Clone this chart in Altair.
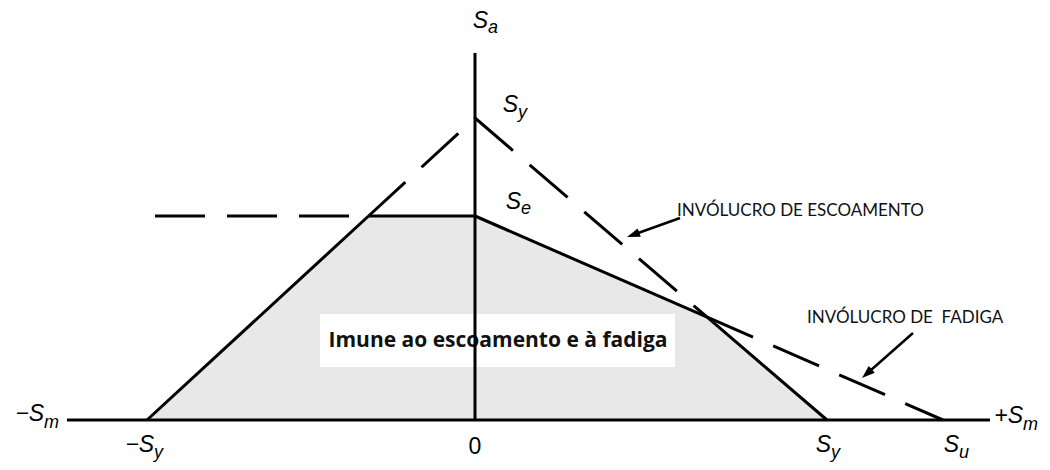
import math
import altair as alt
import pandas as pd

# ---- values (stress units, schematic) ----
SY_NEG = -328      # -Sy on the mean-stress axis
SY_POS = 352       # Sy on the mean-stress axis
SU = 468           # Su on the mean-stress axis
SY_AMP = 302       # Sy on the alternating-stress axis
SE = 204           # Se on the alternating-stress axis
SM_MIN = -408      # left end of the Sm axis
SM_MAX = 515       # right end of the Sm axis
SA_MAX = 367       # top of the Sa axis
SE_DASH_START = -320  # start of the dashed Se line on the left

X_DOMAIN = [-467, 567]
Y_DOMAIN = [-42, 412]

# text box "Imune..."
BOX_X = [-155, 200]
BOX_Y = [53, 106]

# arrows (start -> tip)
ARROW_X0 = [205, 438]
ARROW_Y0 = [202, 87]
ARROW_X1 = [152, 387]
ARROW_Y1 = [183, 42]

# labels: main symbol (right-aligned) and subscript (left-aligned) meet at x
BIG_TXT = ["S", "S", "S", "\u2212S", "\u2212S", "S", "S", "+S"]
SUB_TXT = ["a", "y", "e", "m", "y", "y", "u", "m"]
LBL_X = [13, 43, 46, -431, -321, 356, 484, 548]
BIG_Y = [399, 315, 218, 6, -25, -25, -25, 4]
SUB_Y = [392, 307, 211, -3, -33, -33, -33, -5]

# ---- derived geometry ----
left_x = SY_NEG * (1 - SE / SY_AMP)
knee_x = (SY_AMP - SE) / (SY_AMP / SY_POS - SE / SU)
knee_y = SE * (1 - knee_x / SU)

xs = alt.Scale(domain=X_DOMAIN, nice=False, zero=False)
ys = alt.Scale(domain=Y_DOMAIN, nice=False, zero=False)

solid = pd.DataFrame({
    "x": [SM_MIN, 0, SY_NEG, left_x, 0, knee_x],
    "y": [0, 0, 0, SE, SE, knee_y],
    "x2": [SM_MAX, 0, left_x, 0, knee_x, SY_POS],
    "y2": [0, SA_MAX, SE, SE, knee_y, 0],
})
dashed = pd.DataFrame({
    "x": [left_x, SE_DASH_START, 0, knee_x],
    "y": [SE, SE, SY_AMP, knee_y],
    "x2": [0, left_x, knee_x, SU],
    "y2": [SY_AMP, SE, knee_y, 0],
})
poly = pd.DataFrame({
    "x": [SY_NEG, left_x, 0, knee_x, SY_POS],
    "y": [0, SE, SE, knee_y, 0],
})

def X():
    return alt.X("x:Q", scale=xs, axis=None)

def Y():
    return alt.Y("y:Q", scale=ys, axis=None)

def enc_seg():
    return dict(x=X(), y=Y(), x2="x2:Q", y2="y2:Q")

area = alt.Chart(poly).mark_area(color="#e8e8e8", opacity=1).encode(
    x=X(), y=Y(), y2=alt.datum(0))

box = alt.Chart(pd.DataFrame({"x": [BOX_X[0]], "x2": [BOX_X[1]], "y": [BOX_Y[0]], "y2": [BOX_Y[1]]})).mark_rect(
    color="white").encode(**enc_seg())

box_text = alt.Chart(pd.DataFrame({"t": ["Imune ao escoamento e à fadiga"], "x": [23], "y": [79]})).mark_text(
    font="Open Sans", fontWeight="bold", fontSize=21, color="#111", align="center", baseline="middle").encode(
    x=X(), y=Y(), text="t:N")

solid_l = alt.Chart(solid).mark_rule(color="black", strokeWidth=3, strokeCap="butt").encode(**enc_seg())
dashed_l = alt.Chart(dashed).mark_rule(color="black", strokeWidth=3, strokeCap="butt",
                                       strokeDash=[50, 22]).encode(**enc_seg())

# arrows
sx, sy, ang = [], [], []
for x0, y0, x1, y1 in zip(ARROW_X0, ARROW_Y0, ARROW_X1, ARROW_Y1):
    dx, dy = x1 - x0, y1 - y0
    L = math.hypot(dx, dy)
    sx.append(x1 - dx / L * 6)
    sy.append(y1 - dy / L * 6)
    ang.append(math.degrees(math.atan2(-dy, dx)) % 360)
arrows = pd.DataFrame({"x": ARROW_X0, "y": ARROW_Y0, "x2": sx, "y2": sy})
arrow_l = alt.Chart(arrows).mark_rule(color="black", strokeWidth=2.5).encode(**enc_seg())
heads = pd.DataFrame({"x": ARROW_X1, "y": ARROW_Y1, "a": ang})
arrow_h = alt.Chart(heads).mark_point(
    shape="M0,0 L-2.6,-0.9 L-2.6,0.9 Z", size=100, filled=True, color="black", opacity=1).encode(
    x=X(), y=Y(), angle=alt.Angle("a:Q", scale=None))

env = pd.DataFrame({"t": ["INVÓLUCRO DE ESCOAMENTO", "INVÓLUCRO DE\u00a0 FADIGA"],
                    "x": [202, 332], "y": [209, 102]})
env_t = alt.Chart(env).mark_text(font="Lato", fontSize=17, color="#111", align="left",
                                  baseline="middle").encode(x=X(), y=Y(), text="t:N")

big = alt.Chart(pd.DataFrame({"t": BIG_TXT, "x": LBL_X, "y": BIG_Y})).mark_text(
    font="Liberation Sans", fontStyle="italic", fontSize=23, color="black",
    align="right", baseline="middle").encode(x=X(), y=Y(), text="t:N")
sub = alt.Chart(pd.DataFrame({"t": SUB_TXT, "x": LBL_X, "y": SUB_Y})).mark_text(
    font="Liberation Sans", fontStyle="italic", fontSize=18, color="black",
    align="left", baseline="middle").encode(x=X(), y=Y(), text="t:N")
zero = alt.Chart(pd.DataFrame({"t": ["0"], "x": [0], "y": [-27]})).mark_text(
    font="Liberation Sans", fontSize=23, color="black", align="center", baseline="middle").encode(
    x=X(), y=Y(), text="t:N")

chart = alt.layer(area, box, box_text, solid_l, dashed_l, arrow_l, arrow_h, env_t, big, sub, zero).properties(
    width=1034, height=454, autosize=alt.AutoSizeParams(type="none"), padding=0,
    background="white").configure_view(stroke=None)

chart.save("out.html", embed_options={"renderer": "svg", "actions": False})
